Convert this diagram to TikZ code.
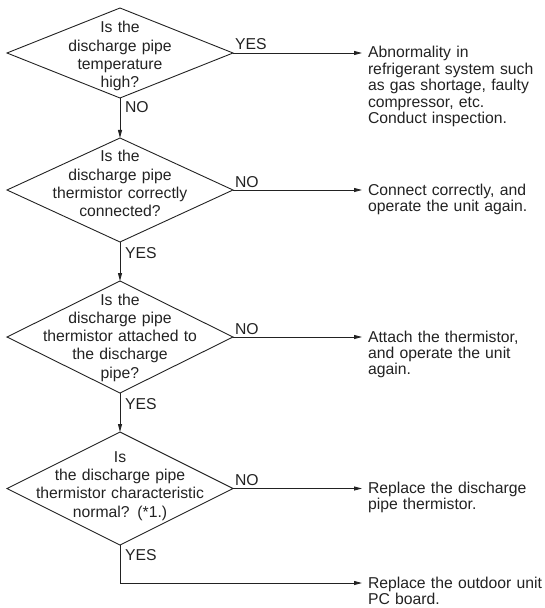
\documentclass[tikz,border=0pt]{standalone}
\usepackage{fontspec}
\setmainfont{Liberation Sans}
\usetikzlibrary{shapes.geometric,arrows.meta}
\definecolor{ink}{HTML}{222222}
\begin{document}
\begin{tikzpicture}[x=1bp,y=-1bp,
  line width=0.9bp,
  every node/.style={text=ink, inner sep=0pt, outer sep=0pt},
  question/.style={shape=diamond, draw=ink, minimum width=226bp},
  qtext/.style={anchor=base, text width=210bp, align=center,
    font=\fontsize{15.8}{18.4}\selectfont},
  action/.style={anchor=base west, text width=180bp, align=left,
    font=\fontsize{15.8}{16.5}\selectfont},
  answer/.style={anchor=base west, font=\fontsize{15.8}{18}\selectfont},
  flow/.style={draw=ink, -{Triangle[length=8bp,width=4bp]}},
  link/.style={draw=ink}]
\useasboundingbox (0,0) rectangle (545,608);

% decision diamonds
\node[question, minimum height=90bp]  (q1) at (120,53)    {};
\node[question, minimum height=104bp] (q2) at (120,190)   {};
\node[question, minimum height=112bp] (q3) at (120,337)   {};
\node[question, minimum height=113bp] (q4) at (120,488.5) {};

% questions inside the diamonds
\node[qtext] (t1) at (120,33)  {Is the\\discharge pipe\\temperature\\high?};
\node[qtext] (t2) at (120,162) {Is the\\discharge pipe\\thermistor correctly\\connected?};
\node[qtext] (t3) at (120,305) {Is the\\discharge pipe\\thermistor attached to\\the discharge\\pipe?};
\node[qtext] (t4) at (120,462) {Is\\the discharge pipe\\thermistor characteristic\\normal? (*1.)};

% arrow ends on the right
\coordinate (e1) at (362,53);
\coordinate (e2) at (362,190);
\coordinate (e3) at (362,337);
\coordinate (e4) at (362,488.5);
\coordinate (e5) at (362,583);

% actions
\node[action] (r1) at (368,58)    {Abnormality in\\refrigerant system such\\as gas shortage, faulty\\compressor, etc.\\Conduct inspection.};
\node[action] (r2) at (368,195)   {Connect correctly, and\\operate the unit again.};
\node[action] (r3) at (368,342)   {Attach the thermistor,\\and operate the unit\\again.};
\node[action] (r4) at (368,493.5) {Replace the discharge\\pipe thermistor.};
\node[action] (r5) at (368,588)   {Replace the outdoor unit\\PC board.};

% connectors
\draw[flow] (q1.east) -- (e1);
\draw[flow] (q2.east) -- (e2);
\draw[flow] (q3.east) -- (e3);
\draw[flow] (q4.east) -- (e4);
\draw[flow] (q1.south) -- (q2.north);
\draw[flow] (q2.south) -- (q3.north);
\draw[flow] (q3.south) -- (q4.north);
\draw[flow] (q4.south) |- (e5);

% branch labels
\node[answer] (y1) at ([shift={(2,-3)}]q1.east)  {YES};
\node[answer] (n1) at ([shift={(5,15)}]q1.south) {NO};
\node[answer] (n2) at ([shift={(2,-3)}]q2.east)  {NO};
\node[answer] (y2) at ([shift={(5,16)}]q2.south) {YES};
\node[answer] (n3) at ([shift={(2,-3)}]q3.east)  {NO};
\node[answer] (y3) at ([shift={(5,16)}]q3.south) {YES};
\node[answer] (n4) at ([shift={(2,-3)}]q4.east)  {NO};
\node[answer] (y4) at ([shift={(5,15)}]q4.south) {YES};
\end{tikzpicture}
\end{document}
